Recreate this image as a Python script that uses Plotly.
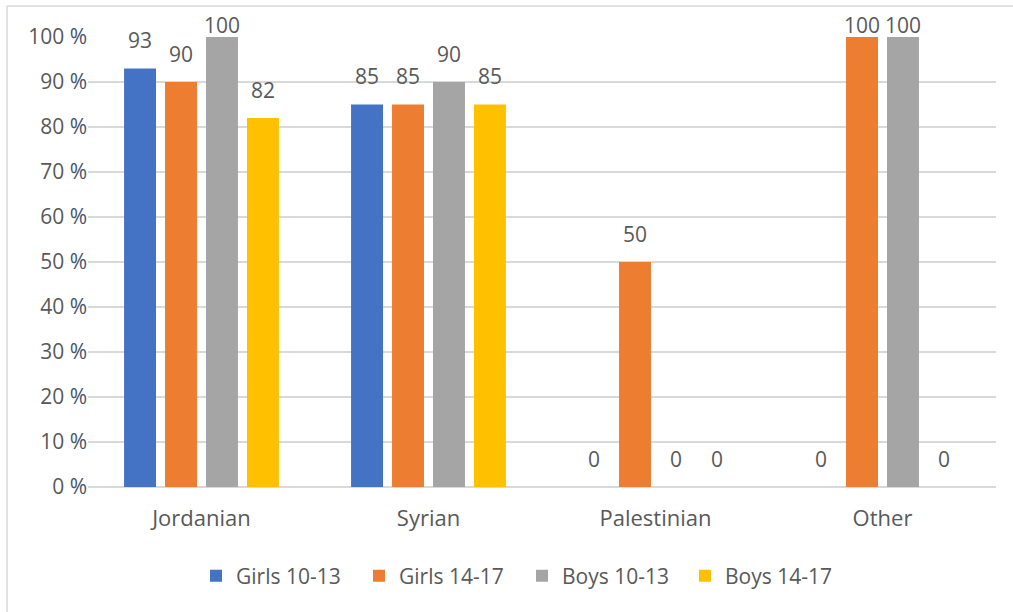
import plotly.graph_objects as go

categories = ["Jordanian", "Syrian", "Palestinian", "Other"]
series_names = ["Girls 10-13", "Girls 14-17", "Boys 10-13", "Boys 14-17"]
girls_10_13 = [93, 85, 0, 0]
girls_14_17 = [90, 85, 50, 100]
boys_10_13 = [100, 90, 0, 100]
boys_14_17 = [82, 85, 0, 0]
colors = ["#4472C4", "#ED7D31", "#A5A5A5", "#FFC000"]
y_ticks = [0, 10, 20, 30, 40, 50, 60, 70, 80, 90, 100]
y_tick_labels = [f"{v} <span style='color:#44546A'>%</span>" for v in y_ticks]

series = [girls_10_13, girls_14_17, boys_10_13, boys_14_17]

W, H = 1013, 612
ml, mr, mt, mb = 88, 17, 37, 125
plot_w = W - ml - mr
plot_h = H - mt - mb
cat_w = plot_w / len(categories)
bargap = 0.278
slot = cat_w * (1 - bargap) / len(series)
y_max = y_ticks[-1]

font_family = "'Open Sans', 'Noto Sans', sans-serif"
text_color = "#595959"

fig = go.Figure()
for name, vals, col in zip(series_names, series, colors):
    fig.add_trace(go.Bar(name=name, x=categories, y=vals, marker=dict(color=col, line=dict(width=0))))

# data labels: centred ~28px above the bar top, but kept inside the chart area (as Excel does)
annotations = []
for i, vals in enumerate(series):
    shift = (i - (len(series) - 1) / 2) * slot
    for c, v in zip(categories, vals):
        bar_top_px = mt + (y_max - v) * plot_h / y_max
        centre_offset = min(28, bar_top_px - 25)
        annotations.append(dict(x=c, y=v, xref="x", yref="y", text=str(v), showarrow=False,
                                xshift=shift, yshift=centre_offset - 15.5, yanchor="bottom",
                                font=dict(size=21, color=text_color, family=font_family)))

border_y = (H - mb - 6) / plot_h
border_x = (7 - ml) / plot_w

fig.update_layout(
    width=W, height=H,
    margin=dict(l=ml, r=mr, t=mt, b=mb, autoexpand=False),
    barmode="group", bargap=bargap, bargroupgap=0.22,
    plot_bgcolor="white", paper_bgcolor="white",
    font=dict(family=font_family, color=text_color, size=20),
    annotations=annotations,
    legend=dict(orientation="h", x=(196 - ml) / plot_w, xanchor="left",
                y=(H - mb - 576) / plot_h, yanchor="middle",
                font=dict(size=21, color=text_color, family=font_family),
                itemwidth=30, entrywidth=118, entrywidthmode="pixels",
                traceorder="normal"),
    xaxis=dict(showgrid=False, showline=False, ticks="",
               tickfont=dict(size=22, color=text_color), ticklabelstandoff=16),
    yaxis=dict(range=[0, y_max], tickmode="array", tickvals=y_ticks, ticktext=y_tick_labels,
               showgrid=True, gridcolor="#D9D9D9", gridwidth=1.5,
               zeroline=True, zerolinecolor="#D9D9D9", zerolinewidth=1.5,
               tickfont=dict(size=21, color=text_color), showline=False, ticks="",
               ticklabelstandoff=0),
    shapes=[
        dict(type="line", xref="paper", yref="paper", x0=border_x, x1=(W - ml) / plot_w,
             y0=border_y, y1=border_y, line=dict(color="#D9D9D9", width=1.5)),
        dict(type="line", xref="paper", yref="paper", x0=border_x, x1=border_x,
             y0=border_y, y1=(H - mb - H) / plot_h, line=dict(color="#D9D9D9", width=1.5)),
    ],
)

fig.write_html("out.html", config={"displayModeBar": False},
               post_script="document.body.style.margin='0';")
